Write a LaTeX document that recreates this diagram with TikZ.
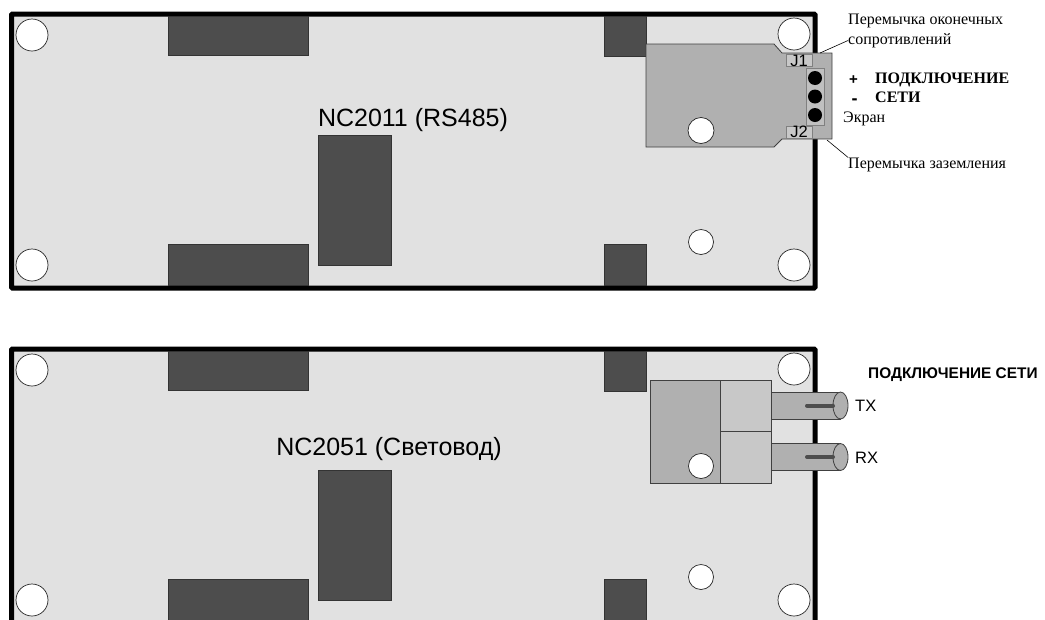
\documentclass[tikz,border=0pt]{standalone}
\usepackage{fontspec}
\setmainfont{Liberation Sans}
\newfontfamily\serifcyr{Liberation Serif}
\usepackage{tikz}
\usetikzlibrary{calc,positioning}

\definecolor{boardfill}{HTML}{E1E1E1}
\definecolor{chipfill}{HTML}{4D4D4D}
\definecolor{connfill}{HTML}{B0B0B0}
\definecolor{plugfill}{HTML}{C8C8C8}
\definecolor{edgegray}{HTML}{404040}

\tikzset{
  board/.style={draw=black,line width=5pt,fill=boardfill,rounded corners=1pt},
  chip/.style={draw=black!80,line width=0.8pt,fill=chipfill},
  hole/.style={draw=black!85,line width=0.7pt,fill=white},
  conn/.style={draw=edgegray,line width=0.8pt,fill=connfill},
  plug/.style={draw=edgegray,line width=0.8pt,fill=plugfill},
  title/.style={inner sep=0pt,font=\fontsize{25}{30}\selectfont},
  note/.style={inner sep=0pt,anchor=west,font=\serifcyr\fontsize{16}{18}\selectfont},
  boldnote/.style={inner sep=0pt,anchor=west,font=\serifcyr\bfseries\fontsize{16}{18}\selectfont},
  signal/.style={inner sep=0pt,anchor=west,font=\fontsize{16.5}{18}\selectfont},
  jumper/.style={draw=gray,line width=0.6pt,fill=plugfill,inner sep=0pt,minimum width=26pt,minimum height=11pt,font=\fontsize{16.5}{11}\selectfont}
}

\begin{document}
\begin{tikzpicture}[x=1pt,y=-1pt]
  \useasboundingbox (0,0) rectangle (1045,619);
  \clip (0,0) rectangle (1045,619);

  % Both boards are the same, the second one 335 lower
  \foreach \yy in {0,335} {
    \begin{scope}[yshift=-\yy pt]
      \draw[board] (11.5,14) rectangle (815,288);
      \draw[chip] (168,16.5) rectangle (308,55);
      \draw[chip] (168,244) rectangle (308,285.5);
      \draw[chip] (318,135) rectangle (391,265);
      \draw[chip] (604,16.5) rectangle (646,56);
      \draw[chip] (604,244) rectangle (646,285.5);
      \foreach \hx/\hy in {32/35,794/34,32/265,794/265}
        \draw[hole] (\hx,\hy) circle (16);
      \draw[hole] (701,242) circle (12.5);
    \end{scope}
  }

  % Screw terminal on the first board
  \draw[conn] (646,44) -- (774,44) -- (782,53) -- (832,53) -- (832,139)
    -- (782,139) -- (774,147) -- (646,147) -- cycle;
  \draw[hole] (701,130.5) circle (13);
  \node[jumper] (J1) at (799,60.5) {J1};
  \node[jumper] (J2) at (799,132) {J2};
  \draw[draw=gray,line width=0.7pt,fill=connfill!80!white] (806,68) rectangle (824,125);
  \foreach \py in {78,96.5,115}
    \fill[black] (815,\py) circle (7);

  % Labels of the first board
  \node[title] (nameA) at (413,120) {NC2011 (RS485)};
  \node[note] (termA) at (848,21) {Перемычка оконечных};
  \node[note] (termB) at (848,40.5) {сопротивлений};
  \node[note] (gnd) at (848,164.5) {Перемычка заземления};
  \node[note] (shield) at (843,118.5) {Экран};
  \node[boldnote] (netA) at (875,79.5) {ПОДКЛЮЧЕНИЕ};
  \node[boldnote] (netB) at (875,97) {СЕТИ};
  \node[signal,font=\bfseries\fontsize{15}{16}\selectfont] (plus) at (849,80.5) {+};
  \node[signal,font=\bfseries\fontsize{18}{18}\selectfont] (minus) at (851.5,101.5) {-};
  \coordinate (termEnd) at (820,53);
  \coordinate (gndEnd) at (827,140);
  \draw[line width=0.6pt] (termEnd) -- (termB.west);
  \draw[line width=0.6pt] (gndEnd) -- (gnd.north west);

  % Fibre connector on the second board
  \draw[conn] (650,380) rectangle (720,483);
  \draw[hole] (701,466) circle (12.5);
  \draw[plug] (720,380) rectangle (771,431);
  \draw[plug] (720,431) rectangle (771,483);
  \foreach \fy/\fname in {405.5/TX,457/RX} {
    \draw[conn,line width=1pt] (771,\fy-13.5) rectangle (840.5,\fy+13.5);
    \draw[draw=edgegray,line width=0.8pt,fill=connfill] (840.5,\fy) ellipse (7.5 and 13.5);
    \draw[chipfill,line width=4pt,line cap=round] (807,\fy) -- (833,\fy);
    \node[signal] (\fname) at (855,\fy+0.5) {\fname};
  }

  % Labels of the second board
  \node[title] (nameB) at (389,449.5) {NC2051 (Световод)};
  \node[signal,font=\bfseries\fontsize{15.4}{18}\selectfont] (netC) at (868,374.5) {ПОДКЛЮЧЕНИЕ СЕТИ};
\end{tikzpicture}
\end{document}
